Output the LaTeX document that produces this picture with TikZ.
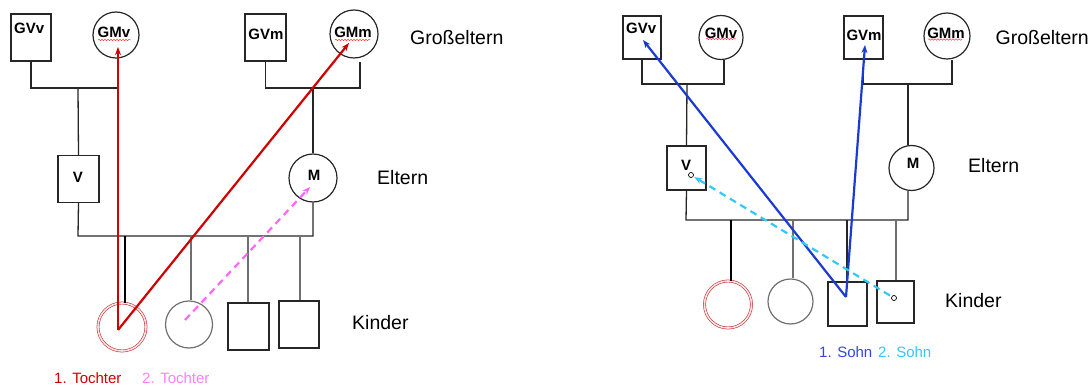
\documentclass[tikz,border=0pt]{standalone}
\usepackage{fontspec}
\setmainfont{Liberation Sans}
\usetikzlibrary{arrows.meta,decorations.pathmorphing}
\definecolor{lineblack}{HTML}{262626}
\definecolor{dropgray}{HTML}{707070}
\definecolor{tred}{HTML}{D00000}
\definecolor{tpink}{HTML}{FF66FF}
\definecolor{tpinktext}{HTML}{FF80FF}
\definecolor{sblue}{HTML}{1A3AD2}
\definecolor{sbluetext}{HTML}{3344EE}
\definecolor{scyan}{HTML}{33C8F5}
\definecolor{dblred}{HTML}{C0393B}
\begin{document}
\begin{tikzpicture}[x=1pt,y=-1pt,
  person/.style={draw=lineblack,line width=1.2pt,inner sep=0pt,fill=white},
  male/.style={person,rectangle},
  female/.style={person,circle},
  namefont/.style={font=\bfseries\fontsize{15}{17}\selectfont,inner sep=0pt},
  genfont/.style={font=\fontsize{19.5}{22}\selectfont,inner sep=0pt},
  legendfont/.style={font=\fontsize{15}{17}\selectfont,inner sep=0pt},
  link/.style={draw=lineblack,line width=1.3pt},
  drop/.style={draw=dropgray,line width=1.3pt},
  thickdrop/.style={draw=black,line width=2.6pt},
  spell/.style={draw=red!75,line width=0.5pt,decorate,
    decoration={snake,amplitude=0.8pt,segment length=3pt}},
  firstpath/.style={line width=2.2pt,-{Stealth[length=8pt,width=6pt]}},
  secondpath/.style={line width=2.2pt,dash pattern=on 7pt off 5pt,-{Stealth[length=8pt,width=6pt]}},
  marker/.style={circle,draw=black,fill=white,line width=0.7pt,minimum size=5pt,inner sep=0pt}
]
\useasboundingbox (0,0) rectangle (1091,387);

% ---------------- left family: daughters ----------------
\node[male,minimum width=40pt,minimum height=47pt] (LGVv) at (31,37.5) {};
\node[female,minimum size=46pt] (LGMv) at (116,35) {};
\node[male,minimum width=41pt,minimum height=47pt] (LGVm) at (265.5,37.5) {};
\node[female,minimum size=48pt] (LGMm) at (354,34) {};
\node[male,minimum width=41pt,minimum height=47pt] (LV) at (78.5,179) {};
\node[female,minimum size=48pt] (LM) at (313,178) {};

\node[circle,minimum size=48pt,inner sep=0pt,draw=dblred,line width=0.6pt,
      double=red!12,double distance=1.6pt] (LK1) at (122,327) {};
\node[female,draw=dropgray,minimum size=47pt] (LK2) at (189,324.5) {};
\node[male,minimum width=41pt,minimum height=47pt] (LK3) at (248.5,326.5) {};
\node[male,minimum width=40pt,minimum height=47pt] (LK4) at (299,324.5) {};

\node[namefont,anchor=west] (tLGVv) at (14,28) {GVv};
\node[namefont] (tLGMv) at (114,32) {GMv};
\node[namefont] (tLGVm) at (266,34) {GVm};
\node[namefont] (tLGMm) at (353,32) {GMm};
\node[namefont] (tLV) at (78,177) {V};
\node[namefont] (tLM) at (314,175) {M};
\draw[spell] (98,40) -- (131,40);
\draw[spell] (335,40) -- (370,40);

% couple lines and descent
\coordinate (LbarV) at (78,88);
\coordinate (LbarM) at (313,88);
\draw[link] (LGVv.south) |- (LbarV) -| ([xshift=2pt]LGMv.south);
\draw[link] (LbarV) -- (LV.north);
\draw[link] (LGVm.south) |- (LbarM) -| (360,62);
\draw[link] (LbarM) -- (LM.north);
\coordinate (Lsib) at (78,236);
\draw[link] (LV.south) -- (Lsib) -| (LM.south);
\draw[thickdrop] (125,236) -- (125,303);
\draw[drop] (191,236) -- (LK2.north -| 191,0);
\draw[drop] (248,236) -- (LK3.north -| 248,0);
\draw[drop] (300,236) -- (LK4.north -| 300,0);

% inheritance paths
\coordinate (LsrcA) at (118,330);
\coordinate (LtipGMv) at (118,47);
\coordinate (LtipGMm) at (349,43);
\coordinate (LsrcB) at (185,320);
\coordinate (LtipM) at (310,187);
\draw[firstpath,tred] (LsrcA) -- (LtipGMv);
\draw[firstpath,tred] (LsrcA) -- (LtipGMm);
\draw[secondpath,tpink] (LsrcB) -- (LtipM);

\node[genfont,anchor=west] (Lg1) at (410,38) {Großeltern};
\node[genfont,anchor=west] (Lg2) at (377,178) {Eltern};
\node[genfont,anchor=west] (Lg3) at (352,323) {Kinder};
\node[legendfont,anchor=west,text=tred] (Lleg1) at (54,378) {1. Tochter};
\node[legendfont,anchor=west,text=tpinktext] (Lleg2) at (142,378) {2. Tochter};

% ---------------- right family: sons ----------------
\node[male,minimum width=38pt,minimum height=43pt] (RGVv) at (642,37.5) {};
\node[female,minimum size=44pt] (RGMv) at (721,37.5) {};
\node[male,minimum width=39pt,minimum height=43pt] (RGVm) at (863.5,37.5) {};
\node[female,minimum size=46pt] (RGMm) at (947,36) {};
\node[male,minimum width=39pt,minimum height=44pt] (RV) at (686.5,168) {};
\node[female,minimum size=45pt] (RM) at (911.5,168) {};

\node[circle,minimum size=47pt,inner sep=0pt,draw=dblred,line width=0.6pt,
      double=red!12,double distance=1.6pt] (RK1) at (728,304.5) {};
\node[female,draw=dropgray,minimum size=45pt] (RK2) at (790.5,301.5) {};
\node[male,minimum width=39pt,minimum height=44pt] (RK3) at (847.5,304) {};
\node[male,minimum width=37pt,minimum height=42pt] (RK4) at (895.5,302) {};

\node[namefont,anchor=west] (tRGVv) at (626,28) {GVv};
\node[namefont] (tRGMv) at (721,33) {GMv};
\node[namefont] (tRGVm) at (864,35) {GVm};
\node[namefont] (tRGMm) at (946,33) {GMm};
\node[namefont] (tRV) at (686,165) {V};
\node[namefont] (tRM) at (913,163) {M};
\draw[spell] (706,39) -- (736,39);
\draw[spell] (928,39.5) -- (962,39.5);

\coordinate (RbarV) at (687,84);
\coordinate (RbarM) at (908,84);
\draw[link] (RGVv.south) |- (RbarV) -| ([xshift=3pt]RGMv.south);
\draw[link] (RbarV) -- (RV.north);
\draw[link] (RGVm.south) |- (RbarM) -| ([xshift=5pt]RGMm.south);
\draw[link] (RbarM) -- (RM.north -| RbarM);
\coordinate (Rsib) at (686,220);
\draw[link] (RV.south) -- (Rsib) -| (RM.south -| RbarM);
\draw[thickdrop] (731,220) -- (731,281);
\draw[drop] (793,220) -- (RK2.north -| 793,0);
\draw[link] (847,220) -- (RK3.north -| 847,0);
\draw[drop] (896,220) -- (RK4.north -| 896,0);

\coordinate (RsrcA) at (846,297);
\coordinate (RtipGVv) at (643,40);
\coordinate (RtipGVm) at (865,45);
\node[marker] (RsrcB) at (894,298) {};
\node[marker] (RtipV) at (691,175) {};
\draw[firstpath,sblue] (RsrcA) -- (RtipGVv);
\draw[firstpath,sblue] (RsrcA) -- (RtipGVm);
\draw[secondpath,scyan,shorten <=2pt,shorten >=1pt] (RsrcB) -- (RtipV);

\node[genfont,anchor=east] (Rg1) at (1089,38) {Großeltern};
\node[genfont,anchor=west] (Rg2) at (968,166) {Eltern};
\node[genfont,anchor=west] (Rg3) at (945,301) {Kinder};
\node[legendfont,anchor=west,text=sbluetext] (Rleg1) at (819,352) {1. Sohn};
\node[legendfont,anchor=west,text=scyan] (Rleg2) at (878,352) {2. Sohn};
\end{tikzpicture}
\end{document}
